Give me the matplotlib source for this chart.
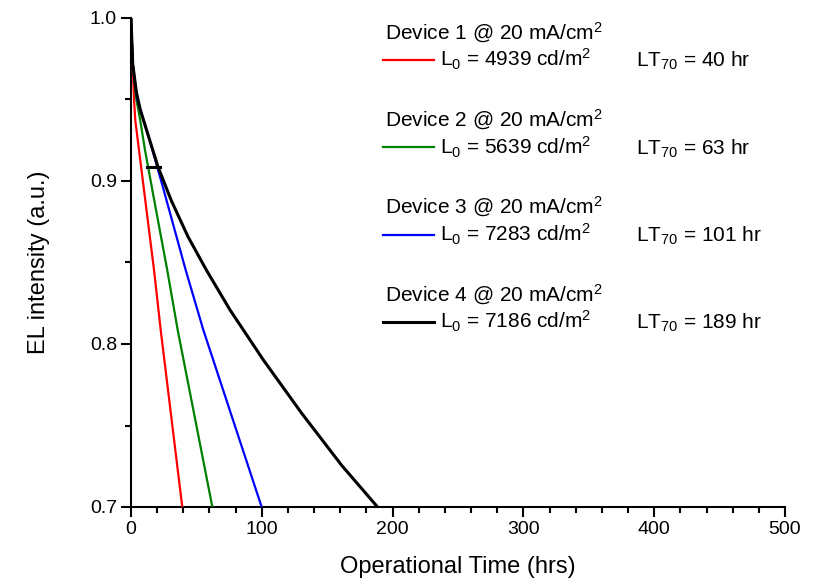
import numpy as np
import matplotlib
matplotlib.use('Agg')
import matplotlib.pyplot as plt
from matplotlib.ticker import MultipleLocator

plt.rcParams['font.family'] = ['Liberation Sans', 'DejaVu Sans']
plt.rcParams['mathtext.default'] = 'regular'

# values
t_dev1 = [0, 1.3, 2.3, 3.3, 17.6, 22.7, 39.2]
el_dev1 = [1.0, 0.972, 0.95, 0.937, 0.8454, 0.8086, 0.70]

t_dev2 = [0, 1.3, 4.1, 7.1, 10.7, 17.8, 27.7, 35.7, 62.2]
el_dev2 = [1.0, 0.972, 0.95, 0.937, 0.919, 0.888, 0.8454, 0.8086, 0.70]

t_dev3 = [0, 1.3, 4.8, 14.3, 24.3, 41.8, 55.3, 99.9]
el_dev3 = [1.0, 0.972, 0.95, 0.925, 0.8965, 0.8454, 0.8086, 0.70]

t_dev4 = [0, 1.3, 4.0, 7.0, 12.0, 20.6, 30.8, 43.6, 57.6, 75.7, 101.2, 130.5, 161.1, 188.5]
el_dev4 = [1.0, 0.972, 0.955, 0.944, 0.931, 0.9088, 0.888, 0.8658, 0.8454, 0.8209,
           0.7902, 0.7575, 0.7255, 0.70]

# short stray black dash near the start of the curves
dash_t = [12.5, 22]
dash_el = [0.9088, 0.9088]

devices = ['Device 1', 'Device 2', 'Device 3', 'Device 4']
L0 = [4939, 5639, 7283, 7186]
LT70 = [40, 63, 101, 189]
colors = ['#ff0000', '#008000', '#0000ff', '#000000']

fig = plt.figure(figsize=(8.16, 5.8), dpi=100)
ax = fig.add_axes([131 / 816, 1 - 507 / 580, 654 / 816, 489 / 580])

series = [(t_dev1, el_dev1), (t_dev2, el_dev2), (t_dev3, el_dev3), (t_dev4, el_dev4)]
for i, (t, el) in enumerate(series):
    lw = 2.2 if i == 3 else 1.6
    ax.plot(t, el, color=colors[i], lw=lw, solid_capstyle='butt',
            solid_joinstyle='round', zorder=3 + i)
ax.plot(dash_t, dash_el, color='black', lw=2.2, zorder=8)

ax.set_xlim(0, 500)
ax.set_ylim(0.7, 1.0)
ax.xaxis.set_major_locator(MultipleLocator(100))
ax.xaxis.set_minor_locator(MultipleLocator(20))
ax.yaxis.set_major_locator(MultipleLocator(0.1))
ax.yaxis.set_minor_locator(MultipleLocator(0.05))
ax.yaxis.set_major_formatter(plt.FormatStrFormatter('%.1f'))

for s in ['top', 'right']:
    ax.spines[s].set_visible(False)
for s in ['left', 'bottom']:
    ax.spines[s].set_linewidth(1.5)

ax.tick_params(which='major', direction='out', length=7, width=1.5, labelsize=14, pad=3)
ax.tick_params(which='minor', direction='out', length=4, width=1.5)

ax.set_xlabel('Operational Time (hrs)', fontsize=17, labelpad=13)
ax.set_ylabel('EL intensity (a.u.)', fontsize=17, labelpad=29)

# legend block, placed in axes fraction
def ay(py):
    return (507 - py) / 489

def axx(px):
    return (px - 131) / 654

for i in range(4):
    head_y = 39.3 + 87.3 * i
    row_y = 67 + 87.3 * i
    line_y = 60 + 87.3 * i
    ax.text(axx(385), ay(head_y), devices[i] + ' @ 20 mA/cm$^2$',
            transform=ax.transAxes, fontsize=15, va='baseline', ha='left')
    ax.plot([axx(383), axx(434)], [ay(line_y), ay(line_y)], color=colors[i],
            lw=2.2 if i == 3 else 1.6, transform=ax.transAxes, clip_on=False)
    ax.text(axx(440), ay(row_y), 'L$_0$ = %d cd/m$^2$' % L0[i],
            transform=ax.transAxes, fontsize=15, va='baseline', ha='left')
    ax.text(axx(636), ay(row_y), 'LT$_{70}$ = %d hr' % LT70[i],
            transform=ax.transAxes, fontsize=15, va='baseline', ha='left')

fig.savefig('out.png', dpi=100)
